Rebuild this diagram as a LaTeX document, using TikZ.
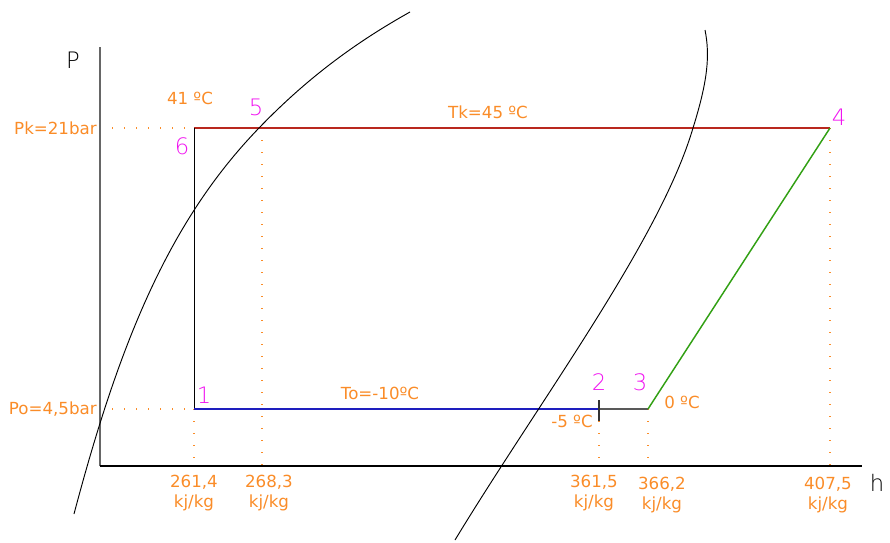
\documentclass[tikz,border=0pt]{standalone}
\usepackage{fontspec}
\setmainfont{DejaVu Sans}
\newfontfamily\thinfont{DejaVu Sans ExtraLight}
\definecolor{org}{RGB}{250,140,40}
\definecolor{dred}{RGB}{185,40,30}
\definecolor{dblue}{RGB}{30,30,190}
\definecolor{dgreen}{RGB}{50,160,20}
\definecolor{mag}{RGB}{240,20,240}
\begin{document}
\begin{tikzpicture}[x=0.75pt,y=-0.75pt,
  lbl/.style={text=org,font=\fontsize{12.5}{14.5}\selectfont,inner sep=0pt},
  num/.style={text=mag,font=\thinfont\fontsize{17}{19}\selectfont,inner sep=0pt},
  axlbl/.style={text=black,font=\thinfont\fontsize{17}{19}\selectfont,inner sep=0pt},
  dots/.style={draw=org,line width=0.8pt,dash pattern=on 0.8pt off 8.2pt},
  curve/.style={draw=black,line width=0.7pt}]
\useasboundingbox (0,0) rectangle (890,543);
% coordinates
\coordinate (O) at (100,466);
\coordinate (Ytop) at (100,47);
\coordinate (Xend) at (862,466);
\coordinate (p6) at (194,128);
\coordinate (p1) at (194,409);
\coordinate (p2) at (599,409);
\coordinate (p3) at (648,409);
\coordinate (p4) at (830,128);
\coordinate (p5) at (262,128);
\coordinate (yk) at (100,128);
\coordinate (yo) at (100,409);
\coordinate (b1) at (194,466);
\coordinate (b5) at (262,466);
\coordinate (b2) at (599,466);
\coordinate (b3) at (648,466);
\coordinate (b4) at (830,466);
\coordinate (t2a) at (599,400);
\coordinate (t2b) at (599,421);
% dotted guides
\draw[dots] (yk) -- (p6);
\draw[dots] (yo) -- (p1);
\draw[dots] (p1) -- (b1);
\draw[dots] (p5) -- (b5);
\draw[dots] (t2b) -- (b2);
\draw[dots] (p3) -- (b3);
\draw[dots] (p4) -- (b4);
% axes
\draw[draw=gray!80!black,line width=1.6pt] (O) -- (Ytop);
\draw[black,line width=1.2pt] (O) -- (Xend);
% cycle
\draw[dred,line width=1.4pt] (p6) -- (p4);
\draw[black,line width=0.7pt] (p6) -- (p1);
\draw[dblue,line width=1.2pt] (p1) -- (p2);
\draw[gray!70!black,line width=1.2pt] (p2) -- (p3);
\draw[dgreen,line width=1.1pt] (p3) -- (p4);
\draw[black!80,line width=1pt] (t2a) -- (t2b);
% saturation curves
\draw[curve] (74,514) .. controls (120,340) and (170,220) .. (259,128)
  .. controls (310,75) and (360,40) .. (410,12);
\draw[curve] (455,540) .. controls (540,400) and (660,240) .. (693,128)
  .. controls (708,80) and (710,55) .. (705,30);
% labels
\node[axlbl] (P) at (73,60) {P};
\node[axlbl] (h) at (877,483) {h};
\node[lbl,anchor=east] (Pk) at (97,128) {Pk=21bar};
\node[lbl,anchor=east] (Po) at (97,409) {Po=4,5bar};
\node[lbl] (t41) at (190,98) {41 ºC};
\node[lbl] (Tk) at (488,112) {Tk=45 ºC};
\node[lbl] (To) at (380,393) {To=-10ºC};
\node[lbl] (t0) at (682,402) {0 ºC};
\node[lbl] (tm5) at (572,421) {-5 ºC};
\node[num] (n5) at (256,107) {5};
\node[num] (n6) at (182,146) {6};
\node[num] (n4) at (839,117) {4};
\node[num] (n1) at (204,395) {1};
\node[num] (n2) at (599,382) {2};
\node[num] (n3) at (640,382) {3};
\node[lbl,align=center] (h1) at (194,493) {261,4\\[1pt]kj/kg};
\node[lbl,align=center] (h5) at (269,493) {268,3\\[1pt]kj/kg};
\node[lbl,align=center] (h2) at (594,493) {361,5\\[1pt]kj/kg};
\node[lbl,align=center] (h3) at (662,495) {366,2\\[1pt]kj/kg};
\node[lbl,align=center] (h4) at (828,495) {407,5\\[1pt]kj/kg};
\end{tikzpicture}
\end{document}
